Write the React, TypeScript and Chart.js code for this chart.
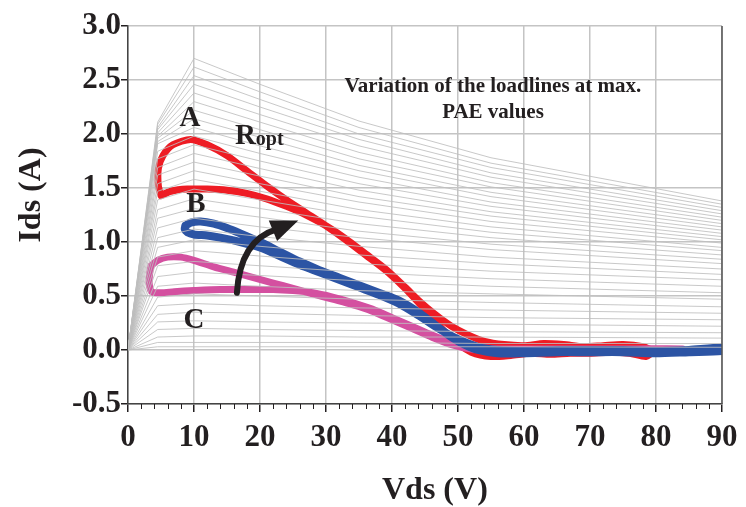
import React, { useEffect, useRef } from "react";
import { Chart, registerables } from "chart.js";
Chart.register(...registerables);

// ---------- data ----------
const xTicks = [0, 10, 20, 30, 40, 50, 60, 70, 80, 90];
const yTicks = [-0.5, 0.0, 0.5, 1.0, 1.5, 2.0, 2.5, 3.0];

// Vds sample points of the gray I-V family
const vdsGrid = [0, 4.5, 10, 20, 35, 55, 90];
// Ids of each gray I-V curve at vdsGrid
const ivFamily = [
  [0, 2.11, 2.70, 2.46, 2.12, 1.78, 1.38],
  [0, 2.09, 2.62, 2.39, 2.06, 1.73, 1.35],
  [0, 2.06, 2.54, 2.32, 2.00, 1.69, 1.32],
  [0, 2.04, 2.46, 2.25, 1.95, 1.64, 1.29],
  [0, 2.01, 2.38, 2.18, 1.89, 1.60, 1.26],
  [0, 1.98, 2.30, 2.11, 1.83, 1.55, 1.23],
  [0, 1.96, 2.22, 2.04, 1.77, 1.51, 1.20],
  [0, 1.93, 2.14, 1.97, 1.71, 1.46, 1.17],
  [0, 1.91, 2.06, 1.89, 1.66, 1.42, 1.14],
  [0, 1.84, 1.98, 1.82, 1.60, 1.37, 1.11],
  [0, 1.77, 1.90, 1.75, 1.54, 1.33, 1.08],
  [0, 1.69, 1.82, 1.68, 1.48, 1.28, 1.05],
  [0, 1.62, 1.74, 1.61, 1.42, 1.24, 1.02],
  [0, 1.54, 1.66, 1.54, 1.37, 1.19, 0.99],
  [0, 1.47, 1.58, 1.47, 1.30, 1.14, 0.95],
  [0, 1.39, 1.49, 1.39, 1.24, 1.09, 0.92],
  [0, 1.30, 1.40, 1.31, 1.17, 1.04, 0.88],
  [0, 1.22, 1.31, 1.23, 1.10, 0.98, 0.84],
  [0, 1.13, 1.22, 1.14, 1.04, 0.93, 0.80],
  [0, 1.04, 1.12, 1.05, 0.96, 0.86, 0.75],
  [0, 0.95, 1.02, 0.96, 0.88, 0.80, 0.70],
  [0, 0.86, 0.92, 0.87, 0.80, 0.73, 0.65],
  [0, 0.78, 0.82, 0.78, 0.72, 0.66, 0.59],
  [0, 0.68, 0.72, 0.69, 0.64, 0.59, 0.53],
  [0, 0.59, 0.62, 0.59, 0.55, 0.52, 0.47],
  [0, 0.49, 0.52, 0.50, 0.47, 0.44, 0.40],
  [0, 0.41, 0.43, 0.41, 0.39, 0.37, 0.34],
  [0, 0.33, 0.35, 0.34, 0.32, 0.30, 0.28],
  [0, 0.26, 0.27, 0.26, 0.25, 0.24, 0.22],
  [0, 0.19, 0.20, 0.19, 0.18, 0.17, 0.16],
  [0, 0.12, 0.13, 0.13, 0.12, 0.12, 0.11],
  [0, 0.07, 0.07, 0.07, 0.07, 0.06, 0.06],
  [0, 0.03, 0.03, 0.03, 0.03, 0.03, 0.025],
];

// Loadline A (red)
const redV = [5.0, 4.6, 4.6, 5.3, 6.8, 9.5, 12, 15, 18, 21, 24, 27, 30, 33, 36, 39, 42, 44, 46, 48, 50, 52, 55, 58, 61, 64, 67, 70, 73, 76, 78.5, 79.5,
  78, 75, 72, 69, 66, 63, 60, 57, 54, 51.5, 49, 46.5, 44, 42, 39, 36, 33, 30, 27, 24, 21, 18, 15, 12, 9, 6.5, 5.0];
const redI = [1.43, 1.52, 1.68, 1.80, 1.90, 1.95, 1.90, 1.80, 1.66, 1.52, 1.39, 1.27, 1.15, 1.02, 0.88, 0.74, 0.57, 0.44, 0.30, 0.17, 0.06, -0.02, -0.06, -0.05, -0.03, -0.04, -0.03, -0.03, -0.02, -0.03, -0.06, -0.01,
  0.03, 0.05, 0.04, 0.03, 0.05, 0.06, 0.04, 0.05, 0.08, 0.14, 0.22, 0.33, 0.46, 0.58, 0.75, 0.89, 1.03, 1.15, 1.25, 1.33, 1.40, 1.45, 1.48, 1.49, 1.49, 1.47, 1.43];

// Loadline B (blue)
const blueV = [8.7, 9.5, 11, 13, 15, 17, 20, 23, 26, 29, 32, 35, 38, 41, 44, 47, 49, 51, 53, 56, 60, 65, 70, 75, 80, 85, 90,
  90, 85, 80, 75, 70, 65, 60, 56, 53, 50, 47, 44, 41, 38, 35, 32, 29, 26, 23, 20, 17, 14, 12, 10, 9, 8.6, 8.7];
const blueI = [1.15, 1.18, 1.19, 1.17, 1.13, 1.08, 1.00, 0.91, 0.82, 0.74, 0.67, 0.60, 0.53, 0.46, 0.35, 0.21, 0.12, 0.05, 0.00, -0.03, -0.03, -0.02, -0.02, -0.02, -0.03, -0.02, -0.01,
  0.02, 0.00, -0.01, 0.00, 0.00, 0.00, -0.01, 0.00, 0.03, 0.10, 0.20, 0.32, 0.43, 0.51, 0.58, 0.65, 0.72, 0.79, 0.87, 0.95, 1.00, 1.04, 1.06, 1.07, 1.09, 1.12, 1.15];

// Loadline C (pink)
const pinkV = [3.5, 4.5, 6, 8, 10, 13, 16, 19, 22, 25, 28, 31, 34, 37, 40, 43, 46, 49, 52, 56, 62, 70, 77, 84,
  84, 77, 70, 62, 56, 52, 49, 46, 43, 40, 37, 34, 31, 28, 25, 22, 18, 14, 10, 7, 5, 3.6, 3.2, 3.3, 3.5];
const pinkI = [0.78, 0.83, 0.86, 0.86, 0.83, 0.77, 0.72, 0.67, 0.62, 0.57, 0.52, 0.47, 0.42, 0.36, 0.28, 0.20, 0.12, 0.05, 0.01, -0.01, -0.01, 0.00, -0.02, -0.01,
  0.01, 0.01, 0.01, 0.01, 0.01, 0.03, 0.07, 0.14, 0.22, 0.30, 0.38, 0.44, 0.49, 0.53, 0.55, 0.56, 0.56, 0.56, 0.55, 0.54, 0.53, 0.54, 0.62, 0.72, 0.78];

// arrow (data units): start, control, end of shaft, head tip
const arrowShaft = [[16.5, 0.53], [17.0, 1.02], [22.6, 1.12]];
const arrowTip = [25.8, 1.2];

const SERIF = '"Liberation Serif", "Times New Roman", serif';
const INK = "#231f20";

const overlay = {
  id: "overlay",
  afterDatasetsDraw(chart: any) {
    const { ctx, chartArea, scales } = chart;
    const xs = scales.x;
    const ys = scales.y;
    const px = (v: number) => xs.getPixelForValue(v);
    const py = (v: number) => ys.getPixelForValue(v);
    ctx.save();

    // right border
    ctx.strokeStyle = "#555";
    ctx.lineWidth = 1.5;
    ctx.beginPath();
    ctx.moveTo(chartArea.right, chartArea.top);
    ctx.lineTo(chartArea.right, chartArea.bottom);
    ctx.stroke();

    // minor x ticks every 2 V
    ctx.strokeStyle = INK;
    ctx.lineWidth = 1;
    for (let v = 2; v < 90; v += 2) {
      if (v % 10 === 0) continue;
      const x = Math.round(px(v)) + 0.5;
      ctx.beginPath();
      ctx.moveTo(x, chartArea.bottom);
      ctx.lineTo(x, chartArea.bottom + 5);
      ctx.stroke();
    }

    // arrow
    const [a0, a1, a2] = arrowShaft;
    ctx.strokeStyle = INK;
    ctx.fillStyle = INK;
    ctx.lineWidth = 6;
    ctx.lineCap = "round";
    ctx.beginPath();
    ctx.moveTo(px(a0[0]), py(a0[1]));
    ctx.quadraticCurveTo(px(a1[0]), py(a1[1]), px(a2[0]), py(a2[1]));
    ctx.stroke();
    const bx = px(a2[0]), by = py(a2[1]);
    const tx = px(arrowTip[0]), ty = py(arrowTip[1]);
    const dx = tx - bx, dy = ty - by;
    const len = Math.hypot(dx, dy);
    const nx = -dy / len, ny = dx / len;
    const hw = 11;
    ctx.beginPath();
    ctx.moveTo(tx, ty);
    ctx.lineTo(bx - dx * 0.2 + nx * hw, by - dy * 0.2 + ny * hw);
    ctx.lineTo(bx - dx * 0.2 - nx * hw, by - dy * 0.2 - ny * hw);
    ctx.closePath();
    ctx.fill();

    // labels
    ctx.fillStyle = INK;
    ctx.textAlign = "center";
    ctx.textBaseline = "middle";
    ctx.font = `bold 29px ${SERIF}`;
    ctx.fillText("A", px(9.4), py(2.139));
    ctx.fillText("B", px(10.3), py(1.343));
    ctx.fillText("C", px(10.0), py(0.269));

    ctx.textAlign = "left";
    ctx.textBaseline = "alphabetic";
    ctx.font = `bold 29px ${SERIF}`;
    const rx = px(16.2), ry = py(1.907);
    ctx.fillText("R", rx, ry);
    const rw = ctx.measureText("R").width;
    ctx.font = `bold 20px ${SERIF}`;
    ctx.fillText("opt", rx + rw, ry + 1);

    ctx.textAlign = "center";
    ctx.textBaseline = "middle";
    ctx.font = `bold 21px ${SERIF}`;
    ctx.fillText("Variation of the loadlines at max.", px(55.3), py(2.435));
    ctx.fillText("PAE values", px(55.3), py(2.194));

    // axis titles
    ctx.font = `bold 32px ${SERIF}`;
    ctx.fillText("Vds (V)", px(46.5), py(-1.30));
    ctx.save();
    ctx.translate(px(-14.6), py(1.435));
    ctx.rotate(-Math.PI / 2);
    ctx.fillText("Ids (A)", 0, 0);
    ctx.restore();

    ctx.restore();
  },
};

export default function App() {
  const ref = useRef<HTMLCanvasElement | null>(null);
  useEffect(() => {
    if (!ref.current) return;
    const grayDatasets = ivFamily.map((row) => ({
      data: row.map((v, i) => ({ x: vdsGrid[i], y: v })),
      borderColor: "rgba(190,190,190,0.85)",
      borderWidth: 1,
      pointRadius: 0,
      showLine: true,
      tension: 0,
      order: 0,
    }));
    const loop = (vs: number[], is: number[], color: string, width: number, order: number) => ({
      data: vs.map((v, i) => ({ x: v, y: is[i] })),
      borderColor: color,
      borderWidth: width,
      pointRadius: 0,
      showLine: true,
      tension: 0.25,
      order,
      borderJoinStyle: "round",
      borderCapStyle: "round",
    });
    const tickFont = { family: SERIF, size: 31, weight: "bold" };
    const chart = new Chart(ref.current, {
      type: "scatter",
      data: {
        datasets: [
          ...grayDatasets,
          loop(blueV, blueI, "#2c54a4", 8, 1),
          loop(pinkV, pinkI, "#d450a0", 7, 2),
          loop(redV, redI, "#ee1c24", 7, 3),
        ] as any,
      },
      options: {
        animation: false,
        responsive: false,
        devicePixelRatio: 1,
        layout: { padding: { top: 26, right: 24, left: 0, bottom: 0 } },
        plugins: { legend: { display: false }, tooltip: { enabled: false } },
        scales: {
          x: {
            type: "linear",
            min: 0,
            max: 90,
            afterBuildTicks: (s: any) => {
              s.ticks = xTicks.map((v) => ({ value: v }));
            },
            ticks: { font: tickFont as any, color: INK, padding: 7, maxRotation: 0, callback: (v: any) => String(v) },
            grid: { color: "#c4c4c4", lineWidth: 1.5, tickLength: 8, tickColor: INK },
            border: { color: "#444", width: 1.5 },
            afterFit: (s: any) => {
              s.height = 103;
            },
          },
          y: {
            type: "linear",
            min: -0.5,
            max: 3.0,
            afterBuildTicks: (s: any) => {
              s.ticks = yTicks.map((v) => ({ value: v }));
            },
            ticks: { font: tickFont as any, color: INK, padding: 0, callback: (v: any) => Number(v).toFixed(1) },
            grid: { color: "#c4c4c4", lineWidth: 1.5, tickLength: 7, tickColor: INK },
            border: { color: "#444", width: 1.5 },
            afterFit: (s: any) => {
              s.width = 128;
            },
          },
        },
      } as any,
      plugins: [overlay],
    });
    return () => chart.destroy();
  }, []);
  return (
    <div style={{ position: "absolute", left: 0, top: 0, width: 746, height: 507, background: "#fff" }}>
      <canvas ref={ref} width={746} height={507} style={{ display: "block" }} />
    </div>
  );
}
